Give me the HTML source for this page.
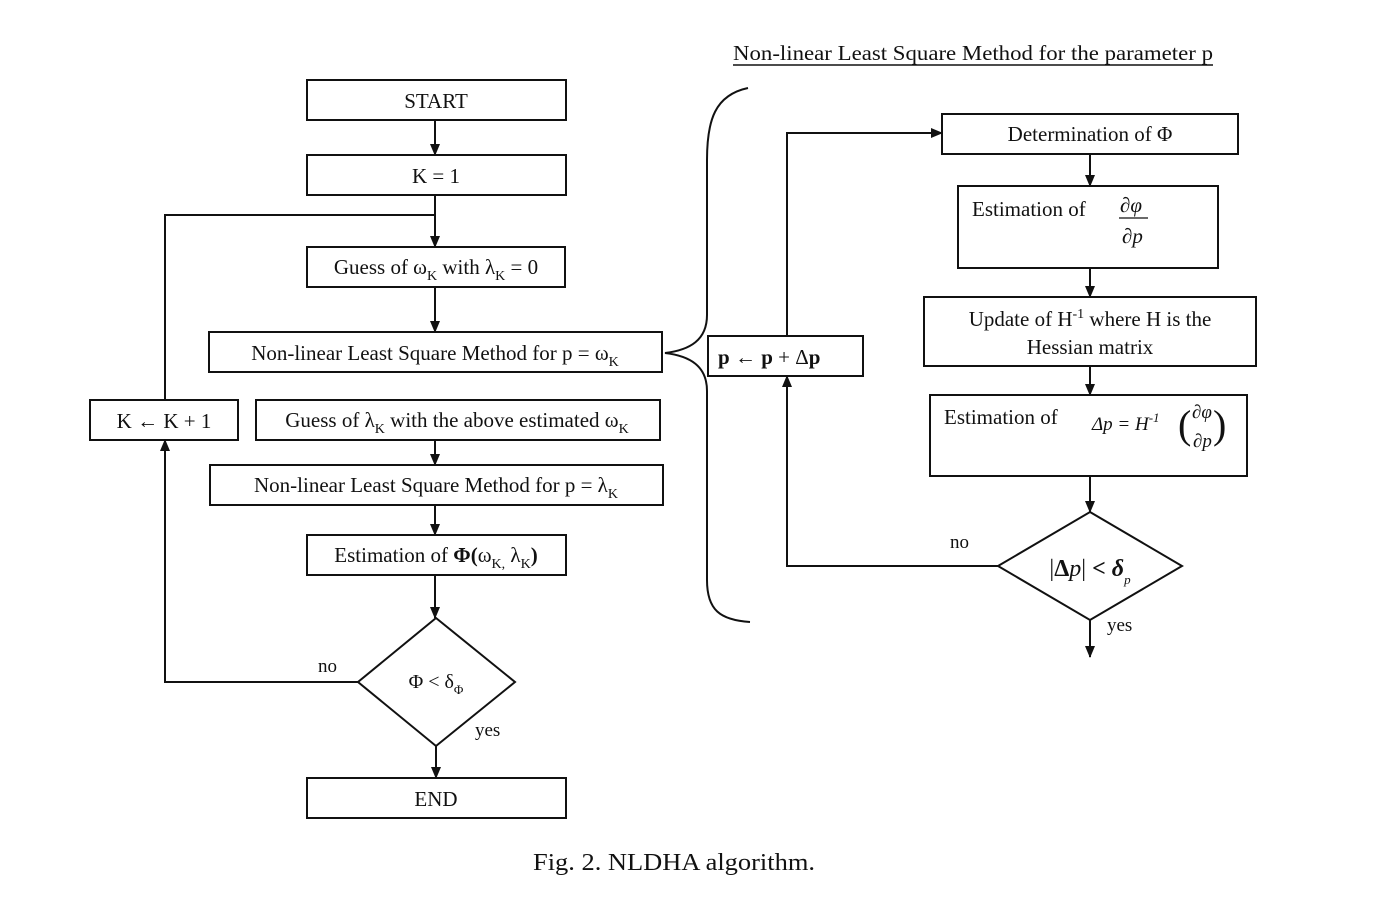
<!DOCTYPE html>
<html><head><meta charset="utf-8"><style>
html,body{margin:0;padding:0;background:#fff;}
svg{display:block;}
text{font-family:"Liberation Serif",serif;fill:#111;}
</style></head><body>
<svg width="1375" height="897" viewBox="0 0 1375 897" xmlns="http://www.w3.org/2000/svg">
<defs><marker id="a" markerWidth="12" markerHeight="12" refX="11" refY="6" orient="auto" markerUnits="userSpaceOnUse"><path d="M0,1 L12,6 L0,11 z" fill="#111"/></marker></defs>
<g fill="none" stroke="#111" stroke-width="2">
<rect x="307" y="80" width="259" height="40"/>
<rect x="307" y="155" width="259" height="40"/>
<rect x="307" y="247" width="258" height="40"/>
<rect x="209" y="332" width="453" height="40"/>
<rect x="90" y="400" width="148" height="40"/>
<rect x="256" y="400" width="404" height="40"/>
<rect x="210" y="465" width="453" height="40"/>
<rect x="307" y="535" width="259" height="40"/>
<polygon points="436,618 515,682 436,746 358,682"/>
<rect x="307" y="778" width="259" height="40"/>
<line x1="435" y1="120" x2="435" y2="155" marker-end="url(#a)"/>
<line x1="435" y1="195" x2="435" y2="247" marker-end="url(#a)"/>
<polyline points="165,400 165,215 435,215"/>
<line x1="435" y1="287" x2="435" y2="332" marker-end="url(#a)"/>
<line x1="435" y1="440" x2="435" y2="465" marker-end="url(#a)"/>
<line x1="435" y1="505" x2="435" y2="535" marker-end="url(#a)"/>
<line x1="435" y1="575" x2="435" y2="618" marker-end="url(#a)"/>
<line x1="436" y1="746" x2="436" y2="778" marker-end="url(#a)"/>
<polyline points="358,682 165,682 165,440" marker-end="url(#a)"/>
<path d="M748,88 C715,95 707,120 707,160 L707,315 C707,340 690,350 665,353 C690,356 707,366 707,391 L707,580 C707,610 720,620 750,622"/>
<rect x="942" y="114" width="296" height="40"/>
<rect x="958" y="186" width="260" height="82"/>
<rect x="924" y="297" width="332" height="69"/>
<rect x="930" y="395" width="317" height="81"/>
<polygon points="1090,512 1182,566 1090,620 998,566"/>
<rect x="708" y="336" width="155" height="40"/>
<line x1="1090" y1="154" x2="1090" y2="186" marker-end="url(#a)"/>
<line x1="1090" y1="268" x2="1090" y2="297" marker-end="url(#a)"/>
<line x1="1090" y1="366" x2="1090" y2="395" marker-end="url(#a)"/>
<line x1="1090" y1="476" x2="1090" y2="512" marker-end="url(#a)"/>
<line x1="1090" y1="620" x2="1090" y2="657" marker-end="url(#a)"/>
<polyline points="998,566 787,566 787,376" marker-end="url(#a)"/>
<polyline points="787,336 787,133 942,133" marker-end="url(#a)"/>
<line x1="733" y1="65" x2="1213" y2="65" stroke-width="1.5"/>
<line x1="1119" y1="218" x2="1148" y2="218" stroke-width="1.2"/>
</g>
<g font-size="21">
<text x="436" y="108" text-anchor="middle">START</text>
<text x="436" y="183" text-anchor="middle">K = 1</text>
<text x="436" y="274" text-anchor="middle">Guess of ω<tspan font-size="14" dy="6">K</tspan><tspan dy="-6"> with λ</tspan><tspan font-size="14" dy="6">K</tspan><tspan dy="-6"> = 0</tspan></text>
<text x="435" y="360" text-anchor="middle">Non-linear Least Square Method for p = ω<tspan font-size="14" dy="6">K</tspan></text>
<text x="164" y="428" text-anchor="middle">K ← K + 1</text>
<text x="457" y="427" text-anchor="middle">Guess of λ<tspan font-size="14" dy="6">K</tspan><tspan dy="-6"> with the above estimated ω</tspan><tspan font-size="14" dy="6">K</tspan></text>
<text x="436" y="492" text-anchor="middle">Non-linear Least Square Method for p = λ<tspan font-size="14" dy="6">K</tspan></text>
<text x="436" y="562" text-anchor="middle">Estimation of <tspan font-weight="bold">Φ(</tspan>ω<tspan font-size="14" dy="6">K,</tspan><tspan dy="-6"> λ</tspan><tspan font-size="14" dy="6">K</tspan><tspan dy="-6" font-weight="bold">)</tspan></text>
<text x="436" y="688" text-anchor="middle" font-size="20">Φ &lt; δ<tspan font-size="13" dy="6">Φ</tspan></text>
<text x="318" y="672" font-size="19">no</text>
<text x="475" y="736" font-size="19">yes</text>
<text x="436" y="806" text-anchor="middle">END</text>
<text x="733" y="60" textLength="480" lengthAdjust="spacingAndGlyphs">Non-linear Least Square Method for the parameter p</text>
<text x="1090" y="141" text-anchor="middle">Determination of Φ</text>
<text x="972" y="216">Estimation of</text>
<text x="1120" y="212" font-style="italic">∂φ</text>
<text x="1122" y="243" font-style="italic">∂p</text>
<text x="1090" y="326" text-anchor="middle">Update of H<tspan font-size="14" dy="-8">-1</tspan><tspan dy="8"> where H is the</tspan></text>
<text x="1090" y="354" text-anchor="middle">Hessian matrix</text>
<text x="944" y="424">Estimation of</text>
<text x="1092" y="430" font-style="italic" font-size="19">Δp = H<tspan font-size="13" dy="-8">-1</tspan></text>
<text x="1178" y="438" font-size="40" font-weight="lighter">(</text>
<text x="1213" y="438" font-size="40" font-weight="lighter">)</text>
<text x="1192" y="418" font-style="italic" font-size="19">∂φ</text>
<text x="1193" y="447" font-style="italic" font-size="19">∂p</text>
<text x="1090" y="576" text-anchor="middle" font-size="24">|<tspan font-weight="bold">Δ</tspan><tspan font-style="italic">p</tspan>| <tspan font-weight="bold">&lt;</tspan> <tspan font-weight="bold" font-style="italic">δ</tspan><tspan font-size="13" font-style="italic" dy="8">p</tspan></text>
<text x="950" y="548" font-size="19">no</text>
<text x="1107" y="631" font-size="19">yes</text>
<text x="718" y="364" font-weight="bold">p <tspan font-weight="normal">← </tspan>p <tspan font-weight="normal">+ Δ</tspan>p</text>
<text x="533" y="870" font-size="24" textLength="282" lengthAdjust="spacingAndGlyphs">Fig. 2.  NLDHA algorithm.</text>
</g>
</svg>
</body></html>
